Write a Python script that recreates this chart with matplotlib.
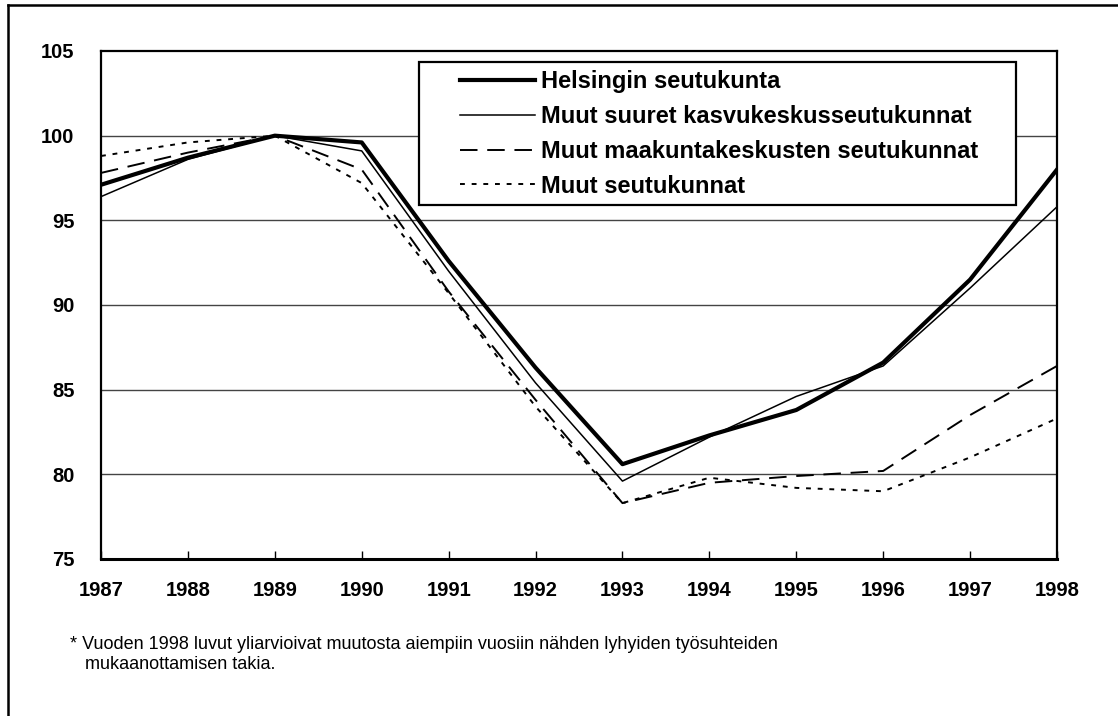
import matplotlib
matplotlib.use("Agg")
import matplotlib.pyplot as plt
from matplotlib.patches import Rectangle
from matplotlib.lines import Line2D

# Data (index, 1989 = 100)
years = [1987, 1988, 1989, 1990, 1991, 1992, 1993, 1994, 1995, 1996, 1997, 1998]
helsinki = [97.1, 98.7, 100.0, 99.6, 92.6, 86.3, 80.6, 82.3, 83.8, 86.6, 91.5, 98.0]
suuret = [96.4, 98.6, 100.0, 99.1, 92.0, 85.4, 79.6, 82.2, 84.6, 86.4, 91.0, 95.8]
maakunta = [97.8, 99.0, 100.0, 98.0, 90.8, 84.4, 78.3, 79.5, 79.9, 80.2, 83.5, 86.4]
muut = [98.8, 99.6, 100.0, 97.2, 90.7, 84.0, 78.3, 79.8, 79.2, 79.0, 81.0, 83.3]
labels = ["Helsingin seutukunta",
          "Muut suuret kasvukeskusseutukunnat",
          "Muut maakuntakeskusten seutukunnat",
          "Muut seutukunnat"]
yticks = [75, 80, 85, 90, 95, 100, 105]
footnote = ("* Vuoden 1998 luvut yliarvioivat muutosta aiempiin vuosiin nähden lyhyiden työsuhteiden\n"
            "   mukaanottamisen takia.")

plt.rcParams['font.family'] = ['Liberation Sans', 'DejaVu Sans']

W, H = 1118, 716
fig = plt.figure(figsize=(W / 100, H / 100), dpi=100)
ax = fig.add_axes([101 / W, 1 - 559 / H, (1057 - 101) / W, (559 - 51) / H])

x = list(range(len(years)))
ax.plot(x, helsinki, color='black', lw=3.0, label=labels[0], zorder=5)
ax.plot(x, suuret, color='black', lw=1.1, label=labels[1], zorder=4)
ax.plot(x, maakunta, color='black', lw=1.4, linestyle=(0, (9, 5)), label=labels[2], zorder=4)
ax.plot(x, muut, color='black', lw=1.4, linestyle=(0, (2.5, 3.5)), label=labels[3], zorder=4)

ax.set_xlim(0, len(years) - 1)
ax.set_ylim(75, 105)
ax.set_xticks(x)
ax.set_xticklabels([str(y) for y in years], fontsize=14.5, fontweight='bold')
ax.set_yticks(yticks)
ax.set_yticklabels([str(v) for v in yticks], fontsize=14.5, fontweight='bold')
ax.tick_params(axis='x', direction='in', length=6, width=1, pad=16)
ax.tick_params(axis='y', length=0, pad=19)

for v in yticks[1:-1]:
    ax.axhline(v, color='#444444', lw=1.0, zorder=1)

for side in ['top', 'right', 'left']:
    ax.spines[side].set_linewidth(1.6)
ax.spines['bottom'].set_linewidth(2.2)

# legend box
ax.add_patch(Rectangle((0.3326, 0.697), 0.957 - 0.3326, 0.978 - 0.697,
                       transform=ax.transAxes, facecolor='white',
                       edgecolor='black', lw=1.6, zorder=6))
leg = ax.legend(loc='upper left', bbox_to_anchor=(0.3755, 0.962), frameon=False,
                prop={'weight': 'bold', 'size': 17},
                handlelength=3.18, handletextpad=0.25, labelspacing=0.5,
                borderpad=0, borderaxespad=0)
leg.set_zorder(7)

# footnote
fig.text(70 / W, 1 - 636 / H, footnote, fontsize=13, va='top', ha='left',
         linespacing=1.25, transform=fig.transFigure)

# outer frame (left and top edges visible)
fig.add_artist(Line2D([8 / W, 8 / W], [0, 1 - 5 / H], color='black', lw=1.8,
                      transform=fig.transFigure))
fig.add_artist(Line2D([8 / W, 1], [1 - 5 / H, 1 - 5 / H], color='black', lw=1.8,
                      transform=fig.transFigure))

fig.savefig('out.png', dpi=100)
